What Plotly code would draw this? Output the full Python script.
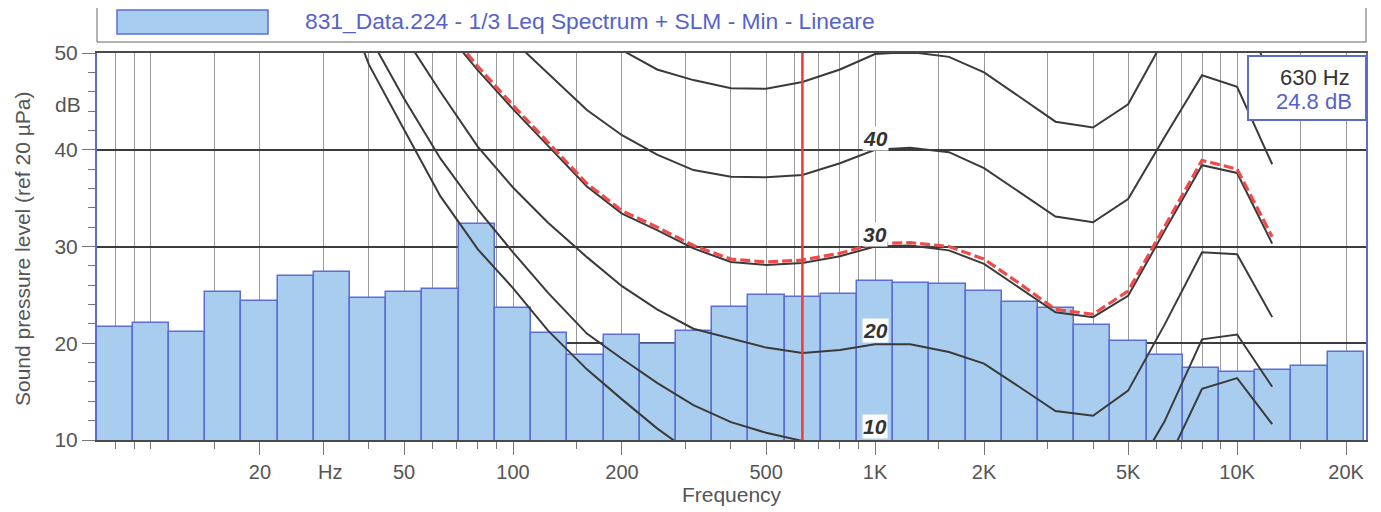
import numpy as np
import plotly.graph_objects as go

# ---------------- data ----------------
BAND_FREQS = [8, 10, 12.5, 16, 20, 25, 31.5, 40, 50, 63, 80, 100, 125, 160, 200, 250, 315,
              400, 500, 630, 800, 1000, 1250, 1600, 2000, 2500, 3150, 4000, 5000, 6300,
              8000, 10000, 12500, 16000, 20000]
LEQ_MIN = [21.65, 22.1, 21.2, 25.3, 24.4, 27.0, 27.35, 24.7, 25.25, 25.6, 32.3, 23.6, 21.1,
           18.8, 20.9, 19.95, 21.3, 23.7, 25.0, 24.8, 25.1, 26.4, 26.2, 26.1, 25.45, 24.3,
           23.65, 21.9, 20.2, 18.8, 17.4, 17.05, 17.2, 17.6, 19.1]

CURVE_FREQS = [20, 25, 31.5, 40, 50, 63, 80, 100, 125, 160, 200, 250, 315, 400, 500, 630,
               800, 1000, 1250, 1600, 2000, 2500, 3150, 4000, 5000, 6300, 8000, 10000, 12500]
CONTOUR_0 = [75, 68, 59, 48.8, 42.1, 35.2, 29.7, 25.7, 21.3, 17.3, 14.2, 11.2, 8.5, 6.2, 4.5,
             3.2, 2.5, 2.4, 2.5, 1.5, -1.0, -3.5, -5.0, -5.0, -1.5, 7.1, 15.3, 16.4, 11.65]
CONTOUR_10 = [80, 72.5, 63.5, 51.8, 45.3, 39.1, 33.8, 29.4, 25.2, 21.0, 18.4, 15.9, 13.6,
              11.85, 10.75, 9.9, 9.7, 9.8, 9.7, 9.0, 7.5, 5.0, 3.0, 2.5, 5.5, 11.9, 20.4,
              20.9, 15.5]
CONTOUR_20 = [85, 77.5, 68, 58, 51.8, 46.0, 40.3, 36.1, 32.45, 28.9, 25.9, 23.5, 21.5, 20.5,
              19.55, 19.0, 19.3, 19.9, 19.9, 19.1, 17.9, 15.5, 13.0, 12.5, 15.1, 21.9, 29.4,
              29.2, 22.7]
CONTOUR_30 = [90, 83, 74, 65, 58, 52.9, 48.2, 44.2, 40.4, 36.2, 33.4, 31.7, 29.8, 28.4, 28.1,
              28.3, 29.0, 30.0, 30.1, 29.6, 28.2, 25.7, 23.2, 22.7, 24.9, 31.6, 38.4, 37.6,
              30.3]
CONTOUR_40 = [95, 88, 80, 72, 65, 60, 55, 51.3, 47.9, 44.1, 41.5, 39.5, 37.9, 37.2, 37.15,
              37.4, 38.6, 40.0, 40.2, 39.75, 38.1, 35.6, 33.1, 32.5, 34.9, 41.3, 47.7, 46.5,
              38.5]
CONTOUR_50 = [100, 93, 86, 79, 73, 68, 63, 59, 55.5, 52.5, 50.3, 48.3, 47.2, 46.35, 46.3,
              47.0, 48.3, 49.9, 50.1, 49.6, 48.0, 45.5, 42.9, 42.3, 44.7, 51.5, 57.5, 56.0,
              47.0]
MIN_FREQS = [63, 80, 100, 125, 160, 200, 250, 315, 400, 500, 630, 800, 1000, 1250, 1600,
             2000, 2500, 3150, 4000, 5000, 6300, 8000, 10000, 12500]
MIN_CURVE = [53.3, 48.6, 44.6, 40.8, 36.5, 33.7, 32.0, 30.1, 28.7, 28.4, 28.6, 29.3, 30.3,
             30.4, 30.0, 28.7, 26.2, 23.5, 23.0, 25.4, 32.0, 38.9, 38.0, 31.0]

CURSOR_FREQ = 630
CURSOR_LEVEL = 24.8
XTICK_FREQS = [20, 30, 50, 100, 200, 500, 1000, 2000, 5000, 10000, 20000]
XTICK_TEXT = ["20", "", "50", "100", "200", "500", "1K", "2K", "5K", "10K", "20K"]
UNIT_LABEL = "Hz"
XMINOR_FREQS = [8, 9, 10, 15, 40, 60, 70, 80, 90, 150, 300, 400, 600, 700, 800, 900, 1500,
                3000, 4000, 6000, 7000, 8000, 9000, 15000]
YTICKS = [10, 20, 30, 40, 50]
CONTOUR_LABELS = ["40", "30", "20", "10"]
LEGEND_TEXT = "831_Data.224 - 1/3 Leq Spectrum + SLM - Min - Lineare"

# ---------------- figure ----------------
# page body has an 8px default margin, so the figure is made 8px smaller and shifted
OFF = 8
W, H = 1381 - OFF, 512 - OFF
L, R, T, B = 97, 1366, 53, 440          # plot-area edges in page pixels
FONT = "Liberation Sans, Arial, sans-serif"
GRAY = "#555555"
BLUE_TXT = "#5563c9"


def px(x):
    return (x - L) / (R - L)


def py(y):
    return (B - y) / (B - T)


band_x = np.round(np.log10(BAND_FREQS), 1)
curve_x = np.log10(CURVE_FREQS)

fig = go.Figure()
fig.add_trace(go.Bar(
    x=band_x, y=LEQ_MIN, width=0.1,
    marker=dict(color="#a9cdef", line=dict(color="#5b6dd6", width=1.5)),
    showlegend=False, hoverinfo="skip"))

for vals in [CONTOUR_0, CONTOUR_10, CONTOUR_20, CONTOUR_30, CONTOUR_40, CONTOUR_50]:
    fig.add_trace(go.Scatter(
        x=curve_x, y=vals, mode="lines",
        line=dict(color="#3a3a3a", width=2), showlegend=False, hoverinfo="skip"))

fig.add_trace(go.Scatter(
    x=np.log10(MIN_FREQS), y=MIN_CURVE, mode="lines",
    line=dict(color="#ef4b4b", width=3.2, dash="10px,4px"),
    showlegend=False, hoverinfo="skip"))

fig.add_trace(go.Scatter(
    x=[np.log10(CURSOR_FREQ)] * 2, y=[YTICKS[0], YTICKS[-1]], mode="lines",
    line=dict(color="#ee3a3a", width=2.5), showlegend=False, hoverinfo="skip"))

fig.update_xaxes(
    range=[0.851, 4.356], type="linear",
    tickmode="array", tickvals=np.log10(XTICK_FREQS), ticktext=XTICK_TEXT,
    ticks="outside", ticklen=13, tickcolor="#777777", tickwidth=1,
    tickfont=dict(family=FONT, size=20, color=GRAY),
    showgrid=True, gridcolor="#9a9a9a", gridwidth=1,
    minor=dict(tickvals=np.log10(XMINOR_FREQS), ticks="outside", ticklen=7,
               tickcolor="#777777", showgrid=True, gridcolor="#9a9a9a", gridwidth=1),
    showline=True, linecolor="#4a4a4a", linewidth=2, mirror=True, zeroline=False,
    title=dict(text="Frequency", font=dict(family=FONT, size=21, color=GRAY), standoff=5),
    automargin=False,
)
fig.update_yaxes(
    range=[10, 50], tickmode="array", tickvals=YTICKS,
    ticktext=[str(v) for v in YTICKS],
    ticks="outside", ticklen=13, tickcolor="#777777",
    tickfont=dict(family=FONT, size=21, color=GRAY),
    minor=dict(dtick=2, ticks="outside", ticklen=7, tickcolor="#777777", showgrid=False),
    showgrid=True, gridcolor="#3c3c3c", gridwidth=2,
    showline=True, linecolor="#5b6bc9", linewidth=2, mirror=True, zeroline=False,
    automargin=False,
)

shapes = [
    # legend header box
    dict(type="rect", xref="paper", yref="paper", x0=px(97), x1=px(1366), y0=py(42), y1=py(7),
         line=dict(color="#666666", width=1), fillcolor="white", layer="above"),
    dict(type="rect", xref="paper", yref="paper", x0=px(117), x1=px(268), y0=py(34), y1=py(10),
         line=dict(color="#5b6dd6", width=1.5), fillcolor="#a9cdef", layer="above"),
    # cursor read-out box
    dict(type="rect", xref="paper", yref="paper", x0=px(1248), x1=px(1366), y0=py(120), y1=py(56),
         line=dict(color="#5b6bc9", width=2), fillcolor="white", layer="above"),
]

annotations = [
    dict(text=LEGEND_TEXT, xref="paper", yref="paper", x=px(303), y=py(21), xanchor="left",
         yanchor="middle", showarrow=False, font=dict(family=FONT, size=22.8, color=BLUE_TXT)),
    dict(text=f"{CURSOR_FREQ} Hz", xref="paper", yref="paper", x=px(1352), y=py(77),
         xanchor="right", yanchor="middle", showarrow=False,
         font=dict(family=FONT, size=22, color="#333333")),
    dict(text=f"{CURSOR_LEVEL} dB", xref="paper", yref="paper", x=px(1354), y=py(102),
         xanchor="right", yanchor="middle", showarrow=False,
         font=dict(family=FONT, size=22, color=BLUE_TXT)),
    dict(text="dB", xref="paper", yref="paper", x=px(83), y=py(104.5), xanchor="right",
         yanchor="middle", showarrow=False, font=dict(family=FONT, size=21, color=GRAY)),
    dict(text=UNIT_LABEL, xref="paper", yref="paper", x=px(330), y=py(472), xanchor="center",
         yanchor="middle", showarrow=False, font=dict(family=FONT, size=20, color=GRAY)),
    dict(text="Sound pressure level (ref 20 µPa)", xref="paper", yref="paper", x=px(22),
         y=py(249), textangle=-90, xanchor="center", yanchor="middle", showarrow=False,
         font=dict(family=FONT, size=21, color=GRAY)),
]
for lab, ypix in zip(CONTOUR_LABELS, [138, 234, 330, 426]):
    annotations.append(dict(
        text=f"<b><i>{lab}</i></b>", xref="x", yref="paper", x=3.0, y=py(ypix),
        xanchor="center", yanchor="middle", showarrow=False, bgcolor="white",
        borderpad=0, font=dict(family=FONT, size=21, color="#333333")))

fig.update_layout(
    width=W, height=H,
    margin=dict(l=L - OFF, r=W - (R - OFF), t=T - OFF, b=H - (B - OFF), autoexpand=False),
    paper_bgcolor="white", plot_bgcolor="white", bargap=0,
    shapes=shapes, annotations=annotations, showlegend=False,
    font=dict(family=FONT),
)

fig.write_html("out.html")
